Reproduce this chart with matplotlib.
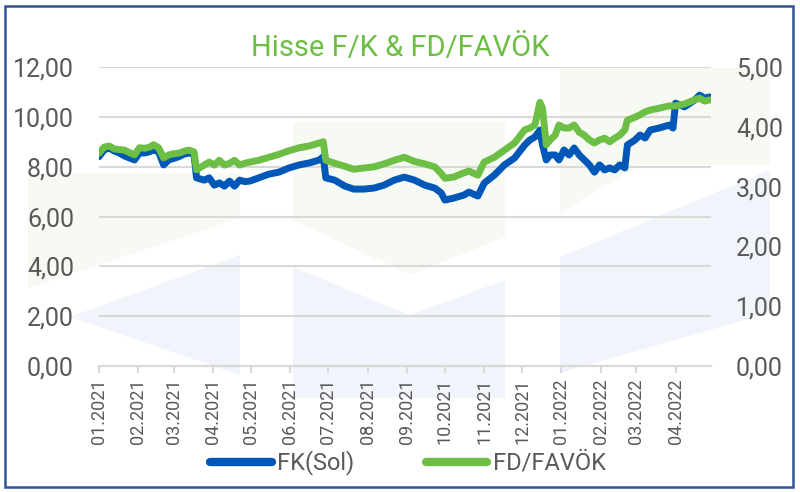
import matplotlib.pyplot as plt
import matplotlib.dates as mdates
from matplotlib.patches import Polygon, Rectangle
from matplotlib.ticker import FuncFormatter
import pandas as pd

# --- data ---
dates = [
    "2021-01-01", "2021-01-05", "2021-01-09", "2021-01-13", "2021-01-17", "2021-01-21",
    "2021-01-25", "2021-01-29", "2021-02-02", "2021-02-06", "2021-02-10", "2021-02-13",
    "2021-02-17", "2021-02-21", "2021-02-25", "2021-03-01", "2021-03-05", "2021-03-09",
    "2021-03-13", "2021-03-17", "2021-03-19", "2021-03-25", "2021-03-29", "2021-04-02",
    "2021-04-06", "2021-04-10", "2021-04-14", "2021-04-18", "2021-04-22", "2021-04-26",
    "2021-04-30", "2021-05-07", "2021-05-15", "2021-05-23", "2021-05-31", "2021-06-08",
    "2021-06-16", "2021-06-24", "2021-06-27", "2021-06-29", "2021-07-06", "2021-07-14",
    "2021-07-21", "2021-07-29", "2021-08-06", "2021-08-14", "2021-08-22", "2021-08-30",
    "2021-09-07", "2021-09-15", "2021-09-23", "2021-09-28", "2021-10-01", "2021-10-08",
    "2021-10-16", "2021-10-20", "2021-10-27", "2021-11-01", "2021-11-09", "2021-11-17",
    "2021-11-25", "2021-12-03", "2021-12-07", "2021-12-11", "2021-12-15", "2021-12-17",
    "2021-12-20", "2021-12-23", "2021-12-27", "2021-12-30", "2022-01-03", "2022-01-07",
    "2022-01-11", "2022-01-15", "2022-01-19", "2022-01-23", "2022-01-27", "2022-01-31",
    "2022-02-04", "2022-02-08", "2022-02-12", "2022-02-16", "2022-02-20", "2022-02-22",
    "2022-02-28", "2022-03-04", "2022-03-08", "2022-03-12", "2022-03-19", "2022-03-27",
    "2022-03-30", "2022-04-01", "2022-04-08", "2022-04-16", "2022-04-20", "2022-04-24",
    "2022-04-28",
]
fk_sol = [
    8.40, 8.67, 8.75, 8.63, 8.55, 8.43,
    8.35, 8.27, 8.55, 8.55, 8.60, 8.67,
    8.60, 8.07, 8.27, 8.33, 8.40, 8.50,
    8.55, 8.50, 7.55, 7.46, 7.55, 7.26,
    7.35, 7.22, 7.42, 7.22, 7.46, 7.40,
    7.42, 7.55, 7.70, 7.78, 7.95, 8.07,
    8.15, 8.27, 8.40, 7.55, 7.46, 7.22,
    7.10, 7.10, 7.14, 7.26, 7.46, 7.58,
    7.46, 7.26, 7.14, 6.95, 6.66, 6.74,
    6.86, 6.98, 6.82, 7.34, 7.66, 8.07,
    8.35, 8.87, 9.07, 9.19, 9.47, 8.87,
    8.27, 8.47, 8.47, 8.27, 8.67, 8.47,
    8.75, 8.47, 8.27, 8.07, 7.78, 8.07,
    7.87, 7.95, 7.87, 8.07, 7.95, 8.87,
    9.07, 9.27, 9.15, 9.47, 9.55, 9.67,
    9.55, 10.55, 10.40, 10.67, 10.87, 10.75,
    10.80,
]
fd_favok = [
    3.56, 3.66, 3.68, 3.63, 3.62, 3.61,
    3.57, 3.53, 3.65, 3.64, 3.66, 3.70,
    3.65, 3.48, 3.53, 3.55, 3.56, 3.59,
    3.61, 3.58, 3.28, 3.36, 3.41, 3.36,
    3.44, 3.36, 3.39, 3.44, 3.36, 3.39,
    3.41, 3.44, 3.49, 3.54, 3.60, 3.65,
    3.68, 3.73, 3.75, 3.44, 3.39, 3.34,
    3.29, 3.31, 3.33, 3.38, 3.44, 3.49,
    3.42, 3.38, 3.33, 3.22, 3.14, 3.16,
    3.23, 3.26, 3.19, 3.41, 3.49, 3.61,
    3.73, 3.95, 3.98, 4.03, 4.41, 4.31,
    3.70, 3.78, 3.86, 4.03, 3.98, 3.98,
    4.03, 3.91, 3.86, 3.78, 3.73, 3.78,
    3.81, 3.75, 3.81, 3.86, 3.95, 4.11,
    4.16, 4.20, 4.25, 4.28, 4.31, 4.35,
    4.35, 4.35, 4.38, 4.45, 4.48, 4.43,
    4.45,
]
left_ticks = [0, 2, 4, 6, 8, 10, 12]
right_ticks = [0, 1, 2, 3, 4, 5]

blue = "#0057B8"
green = "#6DBE45"
grey_txt = "#595959"
grid_c = "#D9D9D9"

plt.rcParams["font.family"] = ["Roboto", "DejaVu Sans"]

x = pd.to_datetime(dates)

fig = plt.figure(figsize=(8, 4.92), dpi=100)

# watermark logo in the background (pixel coords of the figure)
def px(pts):
    return [(a / 800, 1 - b / 492) for a, b in pts]

wm_green = "#F6FAF3"
wm_blue = "#F1F4FA"
shapes = [
    ([(28, 173), (240, 173), (240, 218), (28, 288)], wm_green),
    ([(70, 317), (240, 255), (240, 375)], wm_blue),
    ([(293, 122), (505, 122), (505, 237), (410, 275), (293, 220)], wm_green),
    ([(293, 267), (410, 315), (505, 280), (505, 398), (293, 398)], wm_blue),
    ([(560, 68), (770, 68), (770, 165), (640, 165), (560, 213)], wm_green),
    ([(560, 257), (770, 170), (770, 313), (560, 373)], wm_blue),
]
for pts, c in shapes:
    fig.patches.append(Polygon(px(pts), closed=True, transform=fig.transFigure,
                               facecolor=c, edgecolor="none", zorder=-5))

# blue frame
fig.patches.append(Rectangle((5 / 800, 1 - 487 / 492), 788 / 800, 481 / 492,
                             transform=fig.transFigure, fill=False,
                             edgecolor="#2F5597", linewidth=1.8, zorder=10))

ax = fig.add_axes([99 / 800, 1 - 366 / 492, 612 / 800, 299 / 492])
ax.set_facecolor("none")
ax2 = ax.twinx()
ax2.set_facecolor("none")

ax.plot(x, fk_sol, color=blue, linewidth=5, solid_capstyle="round",
        solid_joinstyle="round", label="FK(Sol)")
ax2.plot(x, fd_favok, color=green, linewidth=5, solid_capstyle="round",
         solid_joinstyle="round", label="FD/FAVÖK")

ax.set_ylim(0, 12)
ax2.set_ylim(0, 5)
ax.set_yticks(left_ticks)
ax2.set_yticks(right_ticks)
fmt = FuncFormatter(lambda v, p: f"{v:.2f}".replace(".", ","))
ax.yaxis.set_major_formatter(fmt)
ax2.yaxis.set_major_formatter(fmt)

ax.set_xlim(pd.Timestamp("2021-01-01"), pd.Timestamp("2022-04-29"))
ax.xaxis.set_major_locator(mdates.MonthLocator())
ax.xaxis.set_major_formatter(mdates.DateFormatter("%m.%Y"))

ax.grid(axis="y", color=grid_c, linewidth=1.5)
ax.set_axisbelow(True)
for a in (ax, ax2):
    for s in ("top", "left", "right"):
        a.spines[s].set_visible(False)
    a.spines["bottom"].set_color(grid_c)
    a.spines["bottom"].set_linewidth(1.5)

ax.tick_params(axis="y", length=0, labelsize=18, labelcolor=grey_txt, pad=18)
ax2.tick_params(axis="y", length=0, labelsize=18, labelcolor=grey_txt, pad=18)
ax.tick_params(axis="x", length=5, width=1.5, color=grid_c, labelsize=13,
               labelcolor=grey_txt, labelrotation=90, pad=4)

fig.text(0.5, 0.903, "Hisse F/K & FD/FAVÖK", color=green, fontsize=21,
         ha="center", va="center")

h1, l1 = ax.get_legend_handles_labels()
h2, l2 = ax2.get_legend_handles_labels()
leg = fig.legend(h1 + h2, l1 + l2, loc="center", bbox_to_anchor=(0.51, 1 - 463 / 492),
                 ncol=2, frameon=False, fontsize=17, handlelength=2.6,
                 handletextpad=0.25, columnspacing=3.0, labelcolor=grey_txt)
for ln in leg.get_lines():
    ln.set_linewidth(6)
    ln.set_solid_capstyle("round")

fig.savefig("out.png", dpi=100)
